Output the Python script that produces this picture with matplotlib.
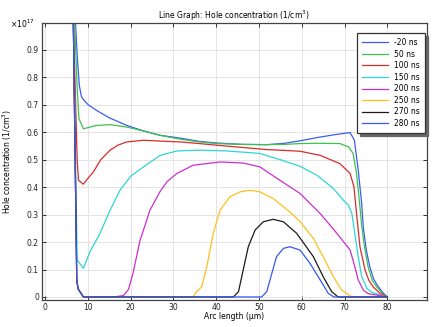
import matplotlib
matplotlib.use('Agg')
import matplotlib.pyplot as plt

# hole concentration along the arc, in units of 1e17 1/cm^3
x_m20 = [6.9, 7.1, 7.5, 8.0, 8.5, 9.1, 10.1, 12, 15, 19.1, 23, 26.9, 31.5, 36, 40.1, 46, 51.8, 56, 60.3, 64, 68, 71.3,
         72.3, 73.2, 74.0, 74.4, 75.1, 75.9, 76.8, 77.9, 79, 80]
y_m20 = [1.1, 1.0, 0.88, 0.77, 0.73, 0.716, 0.70, 0.68, 0.653, 0.625, 0.605, 0.589, 0.579, 0.567, 0.561, 0.556, 0.555,
         0.560, 0.571, 0.582, 0.592, 0.599, 0.571, 0.462, 0.34, 0.25, 0.17, 0.11, 0.065, 0.037, 0.015, 0.0]

x_50 = [6.8, 6.9, 7.5, 7.9, 8.95, 10, 12, 15.2, 19.1, 23, 26.9, 31.5, 36, 40.1, 46, 51.8, 56, 59.6, 64, 68.9, 70.9,
        72.0, 72.8, 73.6, 74.0, 74.7, 75.5, 76.5, 77.5, 78.7, 80]
y_50 = [1.1, 1.0, 0.76, 0.65, 0.613, 0.617, 0.625, 0.628, 0.619, 0.605, 0.589, 0.575, 0.565, 0.559, 0.556, 0.555,
        0.556, 0.559, 0.560, 0.559, 0.547, 0.523, 0.45, 0.328, 0.26, 0.18, 0.11, 0.06, 0.037, 0.015, 0.0]

x_100 = [6.5, 6.6, 7.5, 7.8, 8.95, 10, 11.3, 13, 15.2, 17, 19.1, 23, 26.9, 31.5, 36, 40.1, 46, 51.8, 56, 59.6, 64.3,
         68.9, 71.3, 72.2, 72.8, 73.6, 74.8, 75.7, 76.7, 78.2, 80]
y_100 = [1.1, 1.0, 0.498, 0.425, 0.411, 0.432, 0.456, 0.50, 0.535, 0.553, 0.565, 0.571, 0.568, 0.565, 0.559, 0.553,
         0.545, 0.537, 0.534, 0.531, 0.516, 0.486, 0.45, 0.401, 0.304, 0.183, 0.098, 0.06, 0.037, 0.014, 0.0]

x_150 = [6.5, 6.6, 7.5, 8.95, 10.5, 12.85, 15, 17.5, 20, 23, 26.9, 30.8, 36.2, 42.4, 46, 50.2, 55, 59.6, 63.5, 67.4,
         69.7, 70.9, 71.7, 72.4, 73.2, 74.0, 75.2, 76.3, 77.5, 78.8, 80]
y_150 = [1.1, 1.0, 0.135, 0.104, 0.165, 0.232, 0.31, 0.389, 0.44, 0.474, 0.516, 0.532, 0.535, 0.532, 0.528, 0.523,
         0.50, 0.476, 0.444, 0.395, 0.353, 0.335, 0.304, 0.232, 0.147, 0.074, 0.032, 0.018, 0.011, 0.004, 0.0]

x_200 = [6.5, 6.6, 7.4, 7.7, 8.95, 12, 16, 18.3, 19.5, 20.6, 22.2, 23.0, 24.5, 26.9, 28.5, 30.8, 34.6, 40.9, 46.3,
         50.2, 54.9, 59.6, 64.3, 68.2, 71.3, 72.4, 73.2, 74.4, 75.5, 77.5, 80]
y_200 = [1.1, 1.0, 0.062, 0.03, 0.0, 0.0, 0.0, 0.005, 0.028, 0.09, 0.207, 0.244, 0.316, 0.385, 0.42, 0.45, 0.48, 0.492,
         0.488, 0.474, 0.425, 0.377, 0.304, 0.232, 0.171, 0.11, 0.062, 0.025, 0.012, 0.007, 0.0]

x_250 = [6.5, 6.6, 7.4, 7.7, 8.95, 20, 34.5, 35.4, 36.6, 37.8, 39.3, 40.9, 43.2, 45.6, 47.9, 50.2, 53.3, 57.2, 59.6,
         62.7, 65.0, 67.4, 69.3, 71.3, 72.5, 80]
y_250 = [1.1, 1.0, 0.062, 0.03, 0.0, 0.0, 0.0, 0.019, 0.037, 0.11, 0.232, 0.316, 0.365, 0.383, 0.389, 0.383, 0.359,
         0.31, 0.275, 0.213, 0.147, 0.074, 0.025, 0.004, 0.0, 0.0]

x_270 = [6.5, 6.6, 7.4, 7.7, 8.95, 20, 44.0, 45.2, 46.3, 47.5, 49.1, 51.0, 53.3, 55.7, 58.8, 62.7, 65.0, 67.0, 68.5, 80]
y_270 = [1.1, 1.0, 0.062, 0.03, 0.0, 0.0, 0.0, 0.019, 0.098, 0.183, 0.244, 0.274, 0.283, 0.274, 0.232, 0.147, 0.074,
         0.019, 0.0, 0.0]

x_280 = [6.5, 6.6, 7.4, 7.7, 8.95, 20, 50.6, 51.8, 53.0, 54.1, 55.7, 57.2, 59.6, 61.9, 64.3, 66.2, 67.5, 80]
y_280 = [1.1, 1.0, 0.062, 0.03, 0.0, 0.0, 0.0, 0.019, 0.086, 0.147, 0.177, 0.183, 0.171, 0.123, 0.062, 0.013, 0.0, 0.0]

labels = ['-20 ns', '50 ns', '100 ns', '150 ns', '200 ns', '250 ns', '270 ns', '280 ns']
colors = ['#3c5cf5', '#3fc24a', '#d92b2b', '#2dd6d6', '#cc2ecc', '#ffbf1f', '#1a1a1a', '#3658f0']
xs = [x_m20, x_50, x_100, x_150, x_200, x_250, x_270, x_280]
ys = [y_m20, y_50, y_100, y_150, y_200, y_250, y_270, y_280]

fs = 5.5
fig = plt.figure(figsize=(4.37, 3.27), dpi=100)
ax = fig.add_axes([0.0954, 0.0826, 0.881, 0.846])

for x, y, c, lab in zip(xs, ys, colors, labels):
    ax.plot(x, y, color=c, lw=0.9, label=lab)

ax.set_xlim(-0.8, 89.2)
ax.set_ylim(-0.011, 0.997)
ax.set_xticks(range(0, 81, 10))
ax.set_yticks([i / 10 for i in range(10)])
ax.set_yticklabels(['0'] + ['0.%d' % i for i in range(1, 10)])
ax.grid(True, color='#e4e4e4', lw=0.7)
ax.set_axisbelow(True)
ax.tick_params(direction='in', length=3, width=0.7, top=True, right=True, labelsize=fs, pad=2, colors='#333333',
               labelcolor='#222222')
for s in ax.spines.values():
    s.set_color('#444444')
    s.set_linewidth(0.9)

ax.set_xlabel('Arc length (µm)', fontsize=fs, labelpad=0.5)
ax.set_ylabel('Hole concentration (1/cm$^3$)', fontsize=fs, labelpad=9)
ax.set_title('Line Graph: Hole concentration (1/cm$^3$)', fontsize=fs, pad=3)
fig.text(0.023, 0.927, '×10$^{17}$', fontsize=fs, ha='left', va='center')

leg = ax.legend(loc='upper right', bbox_to_anchor=(0.995, 0.966), borderaxespad=0, fontsize=fs,
                fancybox=False, shadow={'color': '#666666', 'alpha': 1}, handlelength=3.3,
                handletextpad=0.8, labelspacing=0.33, borderpad=0.7, framealpha=1)
leg.get_frame().set_edgecolor('#333333')
leg.get_frame().set_linewidth(0.9)

fig.savefig('out.png', dpi=100)
